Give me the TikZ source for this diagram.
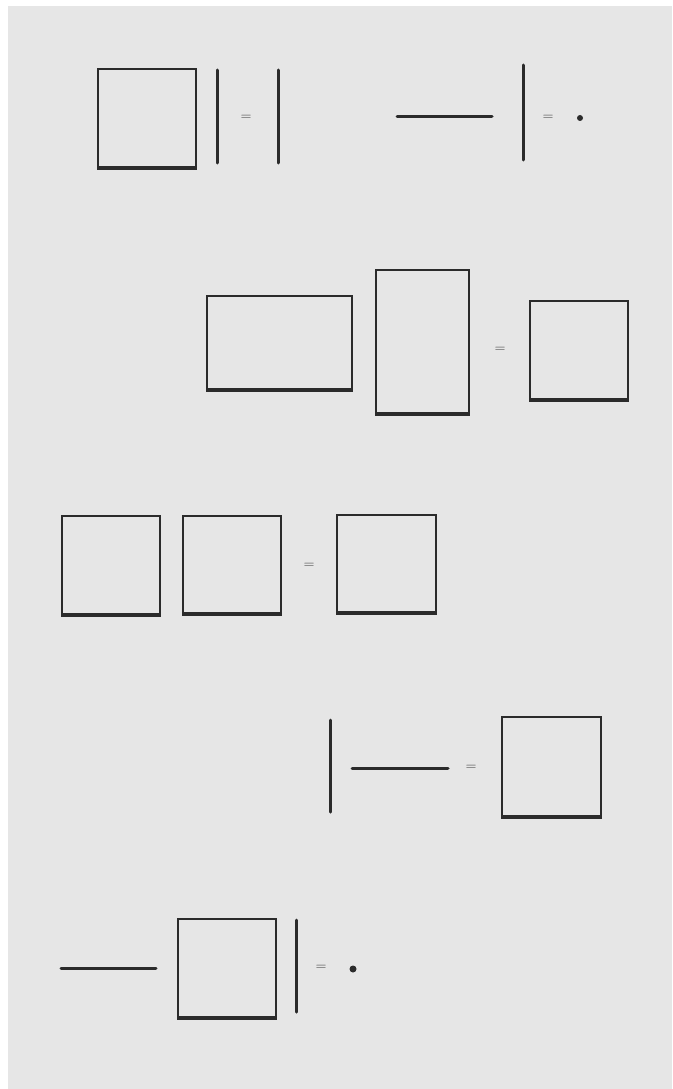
\documentclass[tikz,border=0pt]{standalone}
\usepackage{tikz}
\usepackage{xcolor}
\definecolor{paper}{HTML}{E6E6E6}
\definecolor{ink}{HTML}{2B2B2B}
\definecolor{muted}{HTML}{3C3C3C}
\tikzset{
  box/.style={draw=ink, line width=2pt, inner sep=0pt, anchor=north west},
  bar/.style={draw=ink, line width=3pt, line cap=round},
  heavy/.style={draw=ink, line width=3pt},
  eq/.style={text=muted, font=\Large, inner sep=0pt},
  dot/.style={circle, fill=ink, inner sep=0pt, minimum size=6pt}
}
\begin{document}
\begin{tikzpicture}[x=1pt,y=-1pt]
        \useasboundingbox (0,0) rectangle (672,1089);
        % paper and scan edge
        \fill[paper] (0,0) rectangle (672,1089);
        \fill[white] (0,0) rectangle (8,1089);
        \fill[white] (0,0) rectangle (672,6);
        % row 1
        \node[box, minimum width=98pt, minimum height=98pt] (sqA) at (97,68) {};
        \draw[bar] (217,70) -- (217,163);
        \node[eq] (eqA) at (246,118) {=};
        \draw[bar] (278,70) -- (278,163);
        \draw[bar] (397,117) -- (492,117);
        \draw[bar] (523,65) -- (523,160);
        \node[eq] (eqB) at (548,118) {=};
        \node[dot] (dotA) at (580,118) {};
        % row 2
        \node[box, minimum width=145pt, minimum height=93pt] (wide) at (206,295) {};
        \node[box, minimum width=93pt, minimum height=143pt] (tall) at (375,269) {};
        \node[eq] (eqC) at (500,350) {=};
        \node[box, minimum width=98pt, minimum height=98pt] (sqB) at (529,300) {};
        % row 3
        \node[box, minimum width=98pt, minimum height=98pt] (sqC) at (61,515) {};
        \node[box, minimum width=98pt, minimum height=97pt] (sqD) at (182,515) {};
        \node[eq] (eqD) at (309,566) {=};
        \node[box, minimum width=99pt, minimum height=97pt] (sqE) at (336,514) {};
        % row 4
        \draw[bar] (330,720) -- (330,812);
        \draw[bar] (352,768) -- (448,768);
        \node[eq] (eqE) at (471,768) {=};
        \node[box, minimum width=99pt, minimum height=99pt] (sqF) at (501,716) {};
        % row 5
        \draw[bar] (61,968) -- (156,968);
        \node[box, minimum width=98pt, minimum height=98pt] (sqG) at (177,918) {};
        \draw[bar] (296,920) -- (296,1012);
        \node[eq] (eqF) at (321,968) {=};
        \node[dot, minimum size=7pt] (dotB) at (353,969) {};
        % heavier bottom edges
        \foreach \b in {sqA,wide,tall,sqB,sqC,sqD,sqE,sqF,sqG}
          \draw[heavy] (\b.south west) -- (\b.south east);
\end{tikzpicture}
\end{document}
